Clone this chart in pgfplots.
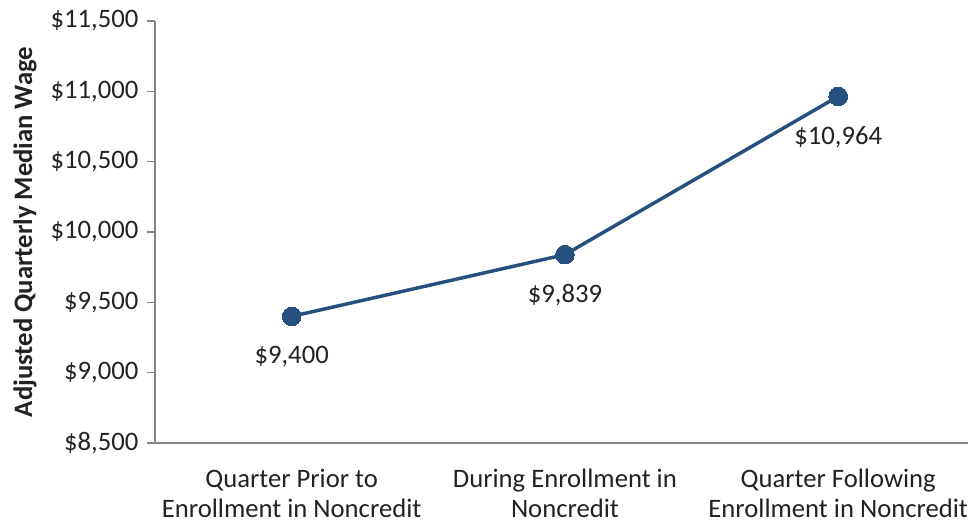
\documentclass[border=0pt]{standalone}
\usepackage{pgfplots}
\pgfplotsset{compat=1.18}
\usepackage{fontspec}
\setmainfont{Carlito}
\definecolor{ser}{HTML}{26507E}
\definecolor{axc}{HTML}{868686}
\definecolor{txt}{HTML}{222222}
\begin{document}
\begin{tikzpicture}[x=1pt,y=1pt]
\path[use as bounding box] (0,0) rectangle (726.75,392.25);
\begin{axis}[
  at={(116.25pt,60pt)}, anchor=south west,
  scale only axis, width=609.75pt, height=316.5pt,
  xmin=-0.5, xmax=2.475, ymin=8500, ymax=11500,
  axis x line*=bottom, axis y line*=left,
  axis line style={draw=axc, line width=0.9pt, -},
  xtick={0,1,2}, xticklabels={},
  extra x ticks={-0.5,0.5,1.5}, extra x tick labels={},
  extra x tick style={tick style={draw=axc, line width=0.9pt}, tick pos=lower},
  major x tick style={draw=none},
  ytick={8500,9000,...,11500},
  scaled y ticks=false,
  yticklabel={\$\pgfmathprintnumber[assume math mode=true,1000 sep={,}]{\tick}},
  y tick label style={font=\fontsize{20pt}{24pt}\selectfont, text=txt, xshift=-3pt},
  ytick style={draw=axc, line width=0.9pt},
  tick align=outside, major tick length=6pt,
  ylabel={Adjusted Quarterly Median Wage},
  every axis y label/.style={at={(axis description cs:-0.160,0.50)}, rotate=90, anchor=center, font=\bfseries\fontsize{20pt}{22pt}\selectfont, text=txt},
  clip=false,
  nodes near coords,
  point meta=explicit symbolic,
  every node near coord/.append style={font=\fontsize{20pt}{24pt}\selectfont, text=txt, anchor=north, yshift=-19pt},
]
\addplot[color=ser, line width=2.6pt, mark=*, mark size=7pt, mark options={fill=ser, draw=ser, line width=0pt}]
  coordinates {(0,9400)[\$9,400] (1,9839)[\$9,839] (2,10964)[\$10,964]};
\node[font=\fontsize{20pt}{22.5pt}\selectfont, text=txt, align=center, anchor=north] at (axis cs:0,8500) [yshift=-16pt] {Quarter Prior to\\Enrollment in Noncredit};
\node[font=\fontsize{20pt}{22.5pt}\selectfont, text=txt, align=center, anchor=north] at (axis cs:1,8500) [yshift=-16pt] {During Enrollment in\\Noncredit};
\node[font=\fontsize{20pt}{22.5pt}\selectfont, text=txt, align=center, anchor=north] at (axis cs:2,8500) [yshift=-16pt] {Quarter Following\\Enrollment in Noncredit};
\end{axis}
\end{tikzpicture}
\end{document}
